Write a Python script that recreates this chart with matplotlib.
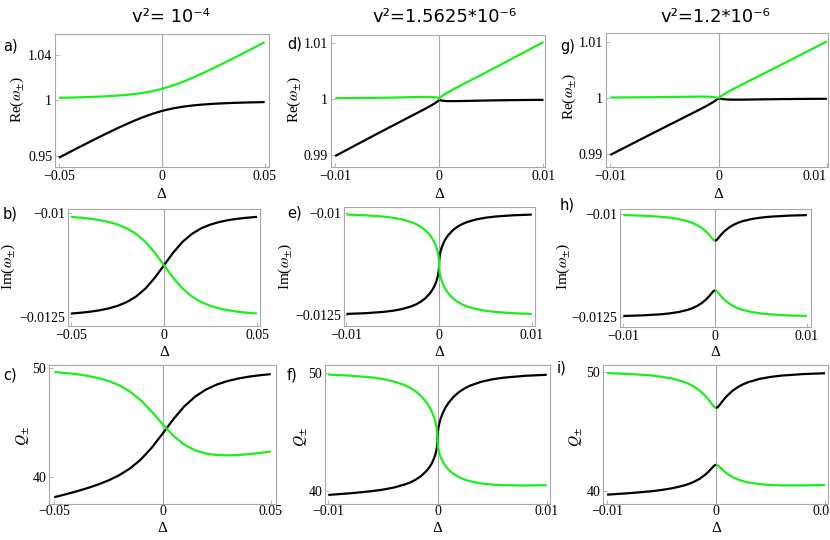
import matplotlib
matplotlib.use("Agg")
import matplotlib.pyplot as plt
import numpy as np

plt.rcParams['font.family'] = ['Liberation Serif', 'DejaVu Serif']
plt.rcParams['mathtext.fontset'] = 'stix'
plt.rcParams['axes.unicode_minus'] = True

# ---------------- data ----------------
# column 1: v^2 = 1e-4
D1 = [-0.05, -0.045, -0.04, -0.035, -0.03, -0.025, -0.02, -0.015, -0.01, -0.005, 0,
      0.005, 0.01, 0.015, 0.02, 0.025, 0.03, 0.035, 0.04, 0.045, 0.05]
RE1_G = [1.00192, 1.00212, 1.00235, 1.00265, 1.00301, 1.00349, 1.00412, 1.00496, 1.00612, 1.00774, 1.00992,
         1.01274, 1.01612, 1.01996, 1.02412, 1.02849, 1.03301, 1.03765, 1.04235, 1.04712, 1.05192]
RE1_K = [0.94808, 0.95288, 0.95765, 0.96235, 0.96699, 0.97151, 0.97588, 0.98004, 0.98388, 0.98726, 0.99008,
         0.99226, 0.99388, 0.99504, 0.99588, 0.99651, 0.99699, 0.99735, 0.99765, 0.99788, 0.99808]
IM1_G = [-0.0100893, -0.0101075, -0.0101316, -0.0101642, -0.0102092, -0.0102728, -0.0103644, -0.0104976,
         -0.0106882, -0.0109447, -0.01125, -0.0115553, -0.0118118, -0.0120024, -0.0121356, -0.0122272,
         -0.0122908, -0.0123358, -0.0123684, -0.0123925, -0.0124108]
IM1_K = [-0.0124108, -0.0123925, -0.0123684, -0.0123358, -0.0122908, -0.0122272, -0.0121356, -0.0120024,
         -0.0118118, -0.0115553, -0.01125, -0.0109447, -0.0106882, -0.0104976, -0.0103644, -0.0102728,
         -0.0102092, -0.0101642, -0.0101316, -0.0101075, -0.0100893]
Q1_G = [49.653, 49.573, 49.466, 49.322, 49.123, 48.842, 48.441, 47.866, 47.067, 46.038, 44.885,
        43.821, 43.013, 42.490, 42.194, 42.058, 42.024, 42.058, 42.138, 42.248, 42.380]
Q1_K = [38.196, 38.446, 38.713, 39.007, 39.338, 39.727, 40.207, 40.827, 41.648, 42.719, 44.003,
        45.331, 46.494, 47.394, 48.044, 48.502, 48.828, 49.062, 49.234, 49.363, 49.462]

# column 2: v^2 = 1.5625e-6
D2 = [-0.01, -0.008, -0.006, -0.005, -0.004, -0.003, -0.0025, -0.002, -0.0015, -0.001, -0.0007,
      -0.0005, -0.0003, -0.0002, -0.0001, -0.00004, -0.00001, 0, 0.00001, 0.00004, 0.0001, 0.0002,
      0.0003, 0.0005, 0.0007, 0.001, 0.0015, 0.002, 0.0025, 0.003, 0.004, 0.005, 0.006, 0.008, 0.01]
RE2_G = [1.000145, 1.000175, 1.000218, 1.000247, 1.000281, 1.000320, 1.000340, 1.000359, 1.000373,
         1.000373, 1.000359, 1.000338, 1.000296, 1.000261, 1.000203, 1.000139, 1.000074, 1.0,
         1.000084, 1.000179, 1.000303, 1.000461, 1.000596, 1.000838, 1.001059, 1.001373, 1.001873,
         1.002359, 1.002840, 1.003320, 1.004281, 1.005247, 1.006218, 1.008175, 1.010145]
RE2_K = [0.989855, 0.991825, 0.993782, 0.994753, 0.995719, 0.996680, 0.997160, 0.997641, 0.998127,
         0.998627, 0.998941, 0.999162, 0.999404, 0.999539, 0.999697, 0.999821, 0.999916, 1.0,
         0.999926, 0.999861, 0.999797, 0.999739, 0.999704, 0.999662, 0.999641, 0.999627, 0.999627,
         0.999641, 0.999660, 0.999680, 0.999719, 0.999753, 0.999782, 0.999825, 0.999855]
IM2_G = [-0.0100353, -0.0100525, -0.0100848, -0.0101123, -0.0101538, -0.0102197, -0.0102673, -0.0103301,
         -0.0104148, -0.0105342, -0.0106331, -0.0107182, -0.0108298, -0.0109035, -0.0110025, -0.0110925,
         -0.0111710, -0.01125, -0.0113290, -0.0114075, -0.0114975, -0.0115966, -0.0116702, -0.0117818,
         -0.0118669, -0.0119658, -0.0120852, -0.0121699, -0.0122327, -0.0122803, -0.0123462, -0.0123877,
         -0.0124152, -0.0124475, -0.0124647]
IM2_K = [-0.0124647, -0.0124475, -0.0124152, -0.0123877, -0.0123462, -0.0122803, -0.0122327, -0.0121699,
         -0.0120852, -0.0119658, -0.0118669, -0.0117818, -0.0116702, -0.0115966, -0.0114975, -0.0114075,
         -0.0113290, -0.01125, -0.0111710, -0.0110925, -0.0110025, -0.0109035, -0.0108298, -0.0107182,
         -0.0106331, -0.0105342, -0.0104148, -0.0103301, -0.0102673, -0.0102197, -0.0101538, -0.0101123,
         -0.0100848, -0.0100525, -0.0100353]
Q2_G = [49.831, 49.748, 49.590, 49.457, 49.252, 48.941, 48.715, 48.419, 48.026, 47.482, 47.040, 46.665,
        46.183, 45.869, 45.454, 45.082, 44.762, 44.444, 44.138, 43.839, 43.501, 43.136, 42.870, 42.474,
        42.179, 41.843, 41.450, 41.182, 40.990, 40.851, 40.667, 40.574, 40.524, 40.497, 40.520]
Q2_K = [39.706, 39.840, 40.023, 40.149, 40.325, 40.580, 40.753, 40.988, 41.295, 41.728, 42.089, 42.403,
        42.819, 43.096, 43.475, 43.823, 44.131, 44.444, 44.756, 45.070, 45.435, 45.845, 46.155, 46.634,
        47.006, 47.447, 47.991, 48.385, 48.682, 48.909, 49.229, 49.432, 49.569, 49.730, 49.817]

# column 3: v^2 = 1.2e-6 (branches jump at 0, so 0 appears twice)
D3 = [-0.01, -0.008, -0.006, -0.005, -0.004, -0.003, -0.0025, -0.002, -0.0015, -0.001, -0.0007,
      -0.0005, -0.0003, -0.0002, -0.0001, 0,
      0, 0.0001, 0.0002, 0.0003, 0.0005, 0.0007, 0.001, 0.0015, 0.002, 0.0025, 0.003, 0.004, 0.005,
      0.006, 0.008, 0.01]
RE3_G = [1.000112, 1.000135, 1.000168, 1.000190, 1.000216, 1.000244, 1.000258, 1.000268, 1.000271,
         1.000256, 1.000228, 1.000193, 1.000138, 1.000100, 1.000053, 1.0,
         1.0, 1.000153, 1.000300, 1.000438, 1.000693, 1.000928, 1.001256, 1.001771, 1.002268,
         1.002758, 1.003244, 1.004216, 1.005190, 1.006168, 1.008135, 1.010112]
RE3_K = [0.989888, 0.991865, 0.993832, 0.994810, 0.995784, 0.996756, 0.997242, 0.997732, 0.998229,
         0.998744, 0.999072, 0.999307, 0.999562, 0.999700, 0.999847, 1.0,
         1.0, 0.999947, 0.999900, 0.999862, 0.999807, 0.999772, 0.999744, 0.999729, 0.999732,
         0.999742, 0.999756, 0.999784, 0.999810, 0.999832, 0.999865, 0.999888]
IM3_G = [-0.0100274, -0.0100409, -0.0100664, -0.0100884, -0.0101218, -0.0101751, -0.0102138, -0.0102645,
         -0.0103320, -0.0104231, -0.0104926, -0.0105453, -0.0105995, -0.0106236, -0.0106413, -0.0106479,
         -0.0118521, -0.0118588, -0.0118764, -0.0119005, -0.0119547, -0.0120074, -0.0120769, -0.0121681,
         -0.0122355, -0.0122862, -0.0123249, -0.0123782, -0.0124116, -0.0124336, -0.0124591, -0.0124726]
IM3_K = [-0.0124726, -0.0124591, -0.0124336, -0.0124116, -0.0123782, -0.0123249, -0.0122862, -0.0122355,
         -0.0121681, -0.0120769, -0.0120074, -0.0119547, -0.0119005, -0.0118764, -0.0118588, -0.0118521,
         -0.0106479, -0.0106413, -0.0106236, -0.0105995, -0.0105453, -0.0104926, -0.0104231, -0.0103320,
         -0.0102645, -0.0102138, -0.0101751, -0.0101218, -0.0100884, -0.0100664, -0.0100409, -0.0100274]
Q3_G = [49.869, 49.803, 49.678, 49.567, 49.409, 49.151, 48.966, 48.725, 48.406, 47.983, 47.663, 47.424,
        47.178, 47.070, 46.989, 46.957,
        42.187, 42.169, 42.112, 42.033, 41.853, 41.680, 41.453, 41.164, 40.958, 40.808, 40.700, 40.564,
        40.494, 40.462, 40.458, 40.493]
Q3_K = [39.682, 39.805, 39.960, 40.076, 40.223, 40.437, 40.582, 40.772, 41.017, 41.349, 41.602, 41.796,
        41.997, 42.087, 42.156, 42.187,
        46.957, 46.984, 47.060, 47.166, 47.405, 47.642, 47.958, 48.380, 48.698, 48.941, 49.128, 49.388,
        49.552, 49.662, 49.790, 49.858]

TITLES = ["v\u00b2= 10\u207b\u2074", "v\u00b2=1.5625*10\u207b\u2076", "v\u00b2=1.2*10\u207b\u2076"]
LETTERS = ["a)", "b)", "c)", "d)", "e)", "f)", "g)", "h)", "i)"]
YLABELS = ["Re($\\omega_{\\pm}$)", "Im($\\omega_{\\pm}$)", "$Q_{\\pm}$"]
XTICKS = [[-0.05, 0, 0.05], [-0.01, 0, 0.01], [-0.01, 0, 0.01]]
XTICKLABELS = [["\u22120.05", "0", "0.05"], ["\u22120.01", "0", "0.01"], ["\u22120.01", "0", "0.01"]]
YTICKS = [[[0.95, 1, 1.04], [-0.0125, -0.01], [40, 50]],
          [[0.99, 1, 1.01], [-0.0125, -0.01], [40, 50]],
          [[0.99, 1, 1.01], [-0.0125, -0.01], [40, 50]]]
YTICKLABELS = [[["0.95", "1", "1.04"], ["\u22120.0125", "\u22120.01"], ["40", "50"]],
               [["0.99", "1", "1.01"], ["\u22120.0125", "\u22120.01"], ["40", "50"]],
               [["0.99", "1", "1.01"], ["\u22120.0125", "\u22120.01"], ["40", "50"]]]

# ---------------- layout ----------------
W, H = 830, 540
fig = plt.figure(figsize=(W / 100, H / 100), dpi=100)

GREEN = '#19f019'
FRAME = '#a8a8a8'

# axes rects in pixels: (left, top, right, bottom)
RECTS = [[(55, 34, 269, 167), (68, 209, 260, 326), (49, 365, 276, 504)],
         [(331, 35, 545, 167), (344, 207, 535, 326), (325, 365, 550, 504)],
         [(606, 33, 828, 167), (620, 209, 811, 327), (603, 365, 828, 504)]]
XLIMS = [[(-0.0519, 0.0521), (-0.0516, 0.0516), (-0.05245, 0.05245)],
         [(-0.0104, 0.01015), (-0.01026, 0.01035), (-0.0103, 0.0103)],
         [(-0.0104, 0.0101), (-0.01036, 0.01045), (-0.01037, 0.01027)]]
YLIMS = [[(0.9397, 1.0593), (-0.01271, -0.0099), (37.57, 50.3)],
         [(0.9879, 1.0114), (-0.01276, -0.00985), (38.94, 50.64)],
         [(0.98774, 1.0116), (-0.01274, -0.00988), (38.90, 50.55)]]
LETTER_POS = [[(3, 46), (3, 214), (3, 375)],
              [(287, 44), (287, 213), (287, 375)],
              [(560, 46), (560, 205), (557, 368)]]
YLABEL_POS = [[(17, 100), (8, 267), (23, 436)],
              [(294, 100), (285, 267), (301, 437)],
              [(569, 97), (563, 267), (576, 437)]]
XLABEL_Y = [195, 352, 528]
TICK_PAD = [2, 2, 1]
TITLE_POS = [(171, 17), (445, 17), (715, 17)]

DATA = [
    (D1, [(RE1_G, RE1_K), (IM1_G, IM1_K), (Q1_G, Q1_K)], None),
    (D2, [(RE2_G, RE2_K), (IM2_G, IM2_K), (Q2_G, Q2_K)], None),
    (D3, [(RE3_G, RE3_K), (IM3_G, IM3_K), (Q3_G, Q3_K)], 16),
]


def fx(x):
    return x / W


def fy(y):
    return 1 - y / H


for c in range(3):
    dx, rows, split = DATA[c]
    dx = np.asarray(dx)
    for r in range(3):
        l, t, rr, b = RECTS[c][r]
        ax = fig.add_axes([l / W, 1 - b / H, (rr - l) / W, (b - t) / H])
        ax.axvline(0, color=FRAME, lw=0.8, zorder=0)
        g, k = rows[r]
        g = np.asarray(g)
        k = np.asarray(k)
        segs = [slice(None)] if split is None else [slice(0, split), slice(split, None)]
        for s in segs:
            ax.plot(dx[s], k[s], color='black', lw=1.6, solid_capstyle='butt', zorder=3)
            ax.plot(dx[s], g[s], color=GREEN, lw=1.6, solid_capstyle='butt', zorder=3)
        x0, x1 = XLIMS[c][r]
        ax.set_xlim(x0, x1)
        ax.set_ylim(*YLIMS[c][r])
        ax.set_xticks(XTICKS[c])
        ax.set_xticklabels(XTICKLABELS[c])
        ax.set_yticks(YTICKS[c][r])
        ax.set_yticklabels(YTICKLABELS[c][r])
        ax.tick_params(direction='in', length=3, width=0.6, color=FRAME,
                       labelsize=10, labelcolor='black')
        ax.tick_params(axis='x', pad=TICK_PAD[r])
        ax.tick_params(axis='y', pad=2)
        if c == 2 and r == 0:
            ax.get_xticklabels()[2].set_horizontalalignment('right')
        for sp in ax.spines.values():
            sp.set_color(FRAME)
            sp.set_linewidth(0.8)
        # x axis label under the zero line
        zx = l + (0 - x0) / (x1 - x0) * (rr - l)
        fig.text(fx(zx), fy(XLABEL_Y[r]), "\u0394", ha='center', va='center', fontsize=11)
        # y label
        yx, yy = YLABEL_POS[c][r]
        fig.text(fx(yx), fy(yy), YLABELS[r], rotation=90, ha='center', va='center', fontsize=11)
        # panel letter
        lx, ly = LETTER_POS[c][r]
        fig.text(fx(lx), fy(ly), LETTERS[c * 3 + r], ha='left', va='center', fontsize=10.5,
                 family='DejaVu Sans')
    tx, ty = TITLE_POS[c]
    fig.text(fx(tx), fy(ty), TITLES[c], ha='center', va='center', fontsize=13, family='DejaVu Sans')

fig.savefig("out.png", dpi=100)
